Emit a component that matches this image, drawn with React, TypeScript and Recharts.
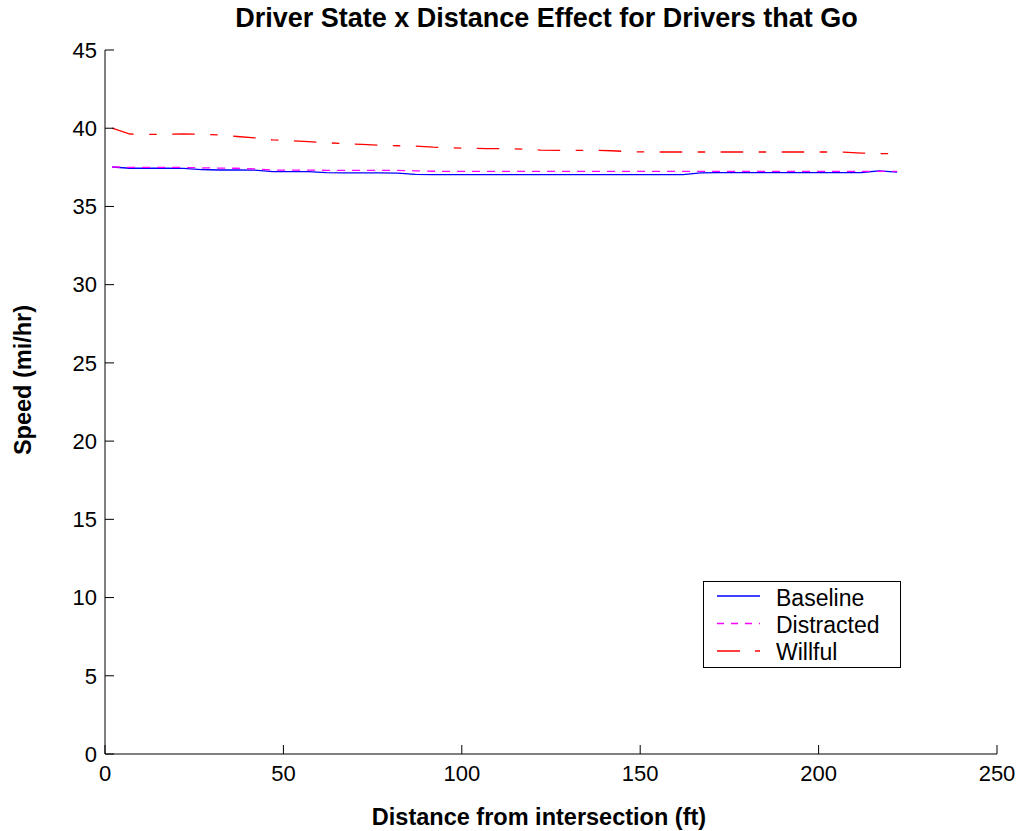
import React from "react";
import { LineChart, Line, XAxis, YAxis } from "recharts";

const FONT = '"Liberation Sans", Arial, sans-serif';

// distance from intersection (ft)
const distances = [
  2, 7, 12, 17, 22, 27, 32, 37, 42, 47, 52, 57, 62, 67, 72, 77, 82, 87, 92, 97,
  102, 107, 112, 117, 122, 127, 132, 137, 142, 147, 152, 157, 162, 167, 172,
  177, 182, 187, 192, 197, 202, 207, 212, 217, 222,
];

const baseline = [
  37.52, 37.44, 37.44, 37.44, 37.43, 37.36, 37.33, 37.33, 37.32, 37.23, 37.22,
  37.22, 37.16, 37.14, 37.14, 37.14, 37.13, 37.05, 37.03, 37.03, 37.03, 37.03,
  37.03, 37.03, 37.03, 37.03, 37.03, 37.03, 37.03, 37.03, 37.03, 37.03, 37.04,
  37.15, 37.16, 37.16, 37.16, 37.16, 37.16, 37.16, 37.16, 37.16, 37.17, 37.27,
  37.2,
];

const distracted = [
  37.52, 37.5, 37.5, 37.5, 37.49, 37.47, 37.45, 37.44, 37.4, 37.33, 37.32,
  37.32, 37.31, 37.31, 37.31, 37.3, 37.3, 37.28, 37.25, 37.24, 37.24, 37.24,
  37.24, 37.24, 37.24, 37.24, 37.24, 37.24, 37.24, 37.24, 37.24, 37.24, 37.24,
  37.24, 37.24, 37.24, 37.24, 37.24, 37.24, 37.24, 37.24, 37.24, 37.24, 37.24,
  37.24,
];

const willful = [
  40.0, 39.63, 39.6, 39.62, 39.63, 39.62, 39.57, 39.47, 39.38, 39.25, 39.2,
  39.14, 39.07, 39.02, 38.97, 38.91, 38.88, 38.86, 38.79, 38.75, 38.72, 38.69,
  38.69, 38.67, 38.6, 38.58, 38.58, 38.59, 38.56, 38.5, 38.48, 38.48, 38.48,
  38.48, 38.48, 38.48, 38.48, 38.48, 38.48, 38.48, 38.48, 38.47, 38.41, 38.38,
  38.38,
];

const xTicks = [0, 50, 100, 150, 200, 250];
const yTicks = [0, 5, 10, 15, 20, 25, 30, 35, 40, 45];

const series = [
  { key: "baseline", name: "Baseline", color: "#0000ff", dash: undefined, legendDash: undefined },
  { key: "distracted", name: "Distracted", color: "#ff00ff", dash: "8 7", legendDash: "7 7" },
  { key: "willful", name: "Willful", color: "#ff0000", dash: "22.5 15.5 7.5 15.5", legendDash: "23 15 5 15" },
];

const data = distances.map((d, i) => ({
  d,
  baseline: baseline[i],
  distracted: distracted[i],
  willful: willful[i],
}));

function BoxLegend() {
  return (
    <svg
      width={198}
      height={87}
      style={{ position: "absolute", left: 703, top: 581, display: "block" }}
    >
      <rect x={0.5} y={0.5} width={197} height={86} fill="#fff" stroke="#000" strokeWidth={1} />
      {series.map((s, i) => (
        <g key={s.key}>
          <line
            x1={14}
            x2={57}
            y1={15 + i * 27.5}
            y2={15 + i * 27.5}
            stroke={s.color}
            strokeWidth={1.3}
            strokeDasharray={s.legendDash}
          />
          <text x={73} y={24.5 + i * 27.3} fontFamily={FONT} fontSize={23} fill="#000">
            {s.name}
          </text>
        </g>
      ))}
    </svg>
  );
}

export default function App() {
  const tickStyle = { fill: "#000", fontSize: 22, fontFamily: FONT };
  return (
    <div style={{ position: "absolute", left: 0, top: 0, width: 1021, height: 831, background: "#fff" }}>
      <LineChart width={1021} height={831} data={data} margin={{ top: 50, right: 24, bottom: 0, left: 0 }}>
        <XAxis
          dataKey="d"
          type="number"
          domain={[0, 250]}
          ticks={xTicks}
          height={77}
          stroke="#000"
          tickSize={-9}
          tickMargin={20}
          tick={tickStyle}
          label={{
            value: "Distance from intersection (ft)",
            position: "insideBottom",
            offset: 6,
            dx: -12,
            style: { fill: "#000", fontSize: 23.5, fontWeight: "bold", fontFamily: FONT },
          }}
        />
        <YAxis
          type="number"
          domain={[0, 45]}
          ticks={yTicks}
          width={105}
          stroke="#000"
          tickSize={-9}
          tickMargin={17}
          tick={tickStyle}
          label={{
            value: "Speed (mi/hr)",
            angle: -90,
            position: "center",
            dx: -30,
            dy: -22,
            style: { fill: "#000", fontSize: 23.5, fontWeight: "bold", fontFamily: FONT },
          }}
        />
        {series.map((s) => (
          <Line
            key={s.key}
            dataKey={s.key}
            name={s.name}
            type="linear"
            stroke={s.color}
            strokeWidth={1.3}
            strokeDasharray={s.dash}
            dot={false}
            activeDot={false}
            isAnimationActive={false}
          />
        ))}
      </LineChart>
      <div
        style={{
          position: "absolute",
          left: 546.5,
          top: 5,
          transform: "translateX(-50%)",
          whiteSpace: "nowrap",
          fontFamily: FONT,
          fontWeight: "bold",
          fontSize: 27,
          lineHeight: "27px",
          color: "#000",
        }}
      >
        Driver State x Distance Effect for Drivers that Go
      </div>
      <BoxLegend />
    </div>
  );
}
